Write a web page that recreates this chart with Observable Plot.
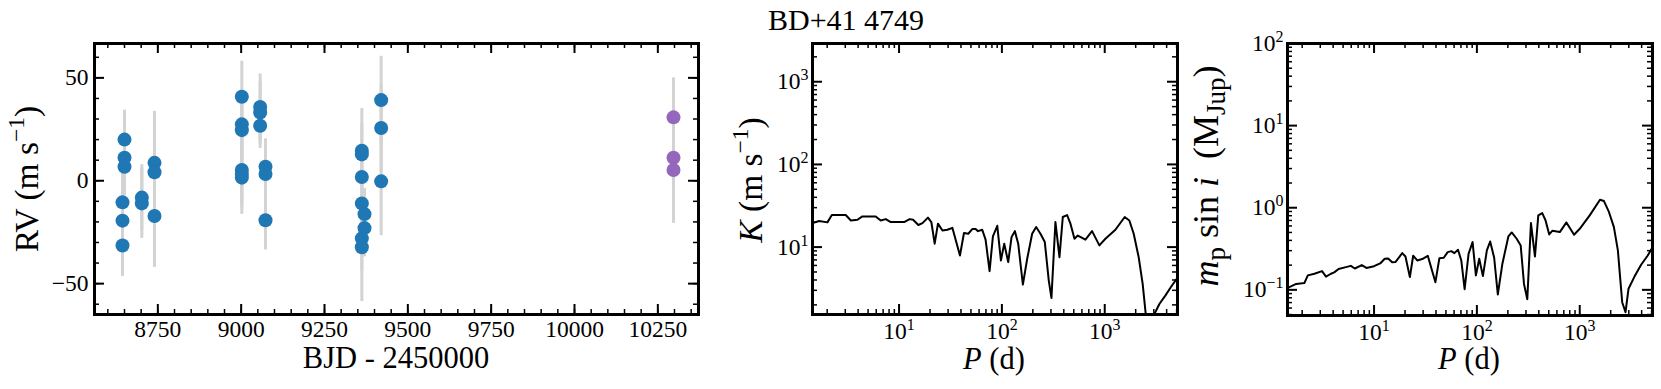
<!DOCTYPE html>
<html><head><meta charset="utf-8">
<script src="https://cdn.jsdelivr.net/npm/d3@7"></script>
<script src="https://cdn.jsdelivr.net/npm/@observablehq/plot@0.6"></script>
<style>
body{margin:0;background:#fff;}
#wrap{position:relative;width:1661px;height:389px;overflow:hidden;background:#fff;}
#wrap svg{position:absolute;top:0;max-width:none;}
#wrap svg text{font-family:'Liberation Serif','Times New Roman',serif;}
</style></head><body><div id="wrap"></div>
<script>
// ---------- RV time series ----------
const bjdBlue = [8650,8650,8650,8644,8644,8644, 8702,8702, 8740,8740,8740,
  9002,9002,9002,9002,9002,9002, 9057,9057,9057, 9073,9073,9073,
  9362,9362,9362,9362,9362,9362, 9370,9370, 9420,9420,9420];
const rvBlue = [20,11.2,6.8,-10.5,-19.4,-31.5, -8.2,-11, 8.7,4.1,-17.1,
  40.8,27.4,24.6,5.2,3.3,1.5, 35.9,33.2,26.7, 6.8,3.3,-19.2,
  14.6,12.8,1.8,-11,-28,-32.3, -16.2,-23, 39.2,25.6,-0.3];
const errBlue = [14.3,14,14,15,15,15, 16,17, 25,25,25,
  17.3,17,17,17,17,17.8, 16,15,11, 13.6,14,14.4,
  20.5,15,15,15,16,26.4, 12.5,14, 21.3,21,26.4];
const bjdPurple = [10297,10297,10297];
const rvPurple = [30.8,11.2,5.2];
const errPurple = [19.2,20,25.9];
const rvXTicks = [8750,9000,9250,9500,9750,10000,10250];
const rvYTicks = [-50,0,50];

// ---------- periodogram: K vs P ----------
const periodK = [1.44,1.67,2.01,2.22,3.03,3.40,3.94,4.40,5.93,6.63,7.43,8.30,11.2,12.7,13.7,15.4,16.9,19.1,20.6,22.2,23.9,26.4,29.5,33.0,39.1,42.8,47.1,51.5,55.5,58.5,64.4,69.4,75.9,81.8,90.2,97.8,105.4,115.2,124.1,133.7,144.1,160.0,176.2,196.9,215.3,237.2,261.3,285.7,303.3,331.6,362.9,391.1,430.7,464.3,507.9,547.0,649,753,887,1015,1270,1564,1735,1913,2138,2338,2540,2775,3000,3400,3881,4505,5152];
const semiAmp = [19.5,20.7,19.9,24.4,24.4,21.0,21.4,23.5,23.5,21.0,21.8,20.1,20.1,21.8,21.4,18.5,19.5,22.7,20.1,11.0,19.2,15.9,16.2,17.1,7.92,14.8,14.5,16.5,16.5,15.6,16.2,12.3,5.12,13.5,18.1,6.89,11.0,6.58,13.2,15.6,11.0,3.52,7.22,14.5,17.5,14.5,11.5,3.94,2.43,20.1,7.56,23.1,24.4,19.2,12.6,13.8,12.3,15.6,10.5,12.6,16.2,23.1,21.0,14.5,7.56,3.60,1.3,0.8,1.5,2.05,2.59,3.43,4.33];

// ---------- periodogram: m sin i vs P ----------
const periodM = [1.50,1.75,2.10,2.27,2.63,3.12,3.41,3.81,4.10,4.52,5.32,5.95,6.50,7.60,8.43,10.0,11.6,12.7,13.7,15.0,16.2,18.8,20.2,22.3,24.0,26.3,29.4,33.3,39.5,43.2,47.6,52.0,56.4,60.4,65.5,70.5,76.0,83.0,90.8,97.8,105.4,114.4,125.0,134.6,147.2,159.7,177.0,202.3,218.1,243.8,266.6,287.1,309.1,335.4,367.0,395.3,431.8,465.2,505.0,543.4,640,742,881,1000,1250,1574,1720,1908,2149,2349,2587,2788,2980,3406,3953,4584,5237];
const minMass = [0.108,0.118,0.121,0.150,0.157,0.169,0.145,0.157,0.163,0.179,0.189,0.196,0.182,0.200,0.185,0.194,0.212,0.239,0.241,0.217,0.219,0.280,0.255,0.143,0.260,0.228,0.237,0.260,0.124,0.243,0.246,0.288,0.296,0.280,0.308,0.228,0.102,0.275,0.381,0.150,0.239,0.147,0.302,0.388,0.246,0.0877,0.208,0.447,0.500,0.419,0.347,0.118,0.0769,0.650,0.255,0.806,0.861,0.701,0.473,0.525,0.505,0.662,0.469,0.554,0.806,1.252,1.206,0.911,0.581,0.302,0.0707,0.0534,0.103,0.145,0.202,0.262,0.347];

const logTicksP = [10,100,1000];
const logTicksK = [10,100,1000];
const logTicksM = [0.1,1,10,100];

const title = "BD+41 4749";
const FONT = "'Liberation Serif', 'Times New Roman', serif";
const TICKFS = 23.5, LABELFS = 30.5, YLABELFS = 33.5;
const H = 389;

function logMinor(domain) {
  const out = [];
  for (let e = -3; e <= 5; e++) for (let m = 2; m <= 9; m++) {
    const v = m * Math.pow(10, e);
    if (v >= domain[0] && v <= domain[1]) out.push(v);
  }
  return out;
}
function linMinor(domain, step) {
  const out = [];
  for (let v = Math.ceil(domain[0] / step) * step; v <= domain[1]; v += step) out.push(v);
  return out;
}
const logFmt = d => "10^" + String(Math.round(Math.log10(d))).replace("-", "\u2212");
const linFmt = d => (d < 0 ? "\u2212" + Math.abs(d) : String(d));

function panel(o) {
  const iw = o.width - o.marginLeft - o.marginRight;
  const ih = H - o.marginTop - o.marginBottom;
  const inX = v => v >= o.x.domain[0] && v <= o.x.domain[1];
  const inY = v => v >= o.y.domain[0] && v <= o.y.domain[1];
  const tX = (vals, len, sw) => [
    Plot.tickX(vals.filter(inX), {x: d => d, insetTop: ih - len, stroke: "#000", strokeWidth: sw}),
    Plot.tickX(vals.filter(inX), {x: d => d, insetBottom: ih - len, stroke: "#000", strokeWidth: sw})
  ];
  const tY = (vals, len, sw) => [
    Plot.tickY(vals.filter(inY), {y: d => d, insetRight: iw - len, stroke: "#000", strokeWidth: sw}),
    Plot.tickY(vals.filter(inY), {y: d => d, insetLeft: iw - len, stroke: "#000", strokeWidth: sw})
  ];
  const svg = Plot.plot({
    width: o.width, height: H,
    marginLeft: o.marginLeft, marginRight: o.marginRight, marginTop: o.marginTop, marginBottom: o.marginBottom,
    style: {fontFamily: FONT, fontSize: TICKFS + "px", background: "transparent", color: "#000"},
    x: o.x, y: o.y,
    marks: [
      ...o.marks,
      ...tX(o.xMinor, 5, 1.5), ...tX(o.xMajor, 10, 2),
      ...tY(o.yMinor, 5, 1.5), ...tY(o.yMajor, 10, 2),
      Plot.frame({stroke: "#000", strokeWidth: 3}),
      Plot.axisX(o.xMajor.filter(inX), {tickSize: 0, tickPadding: o.xPad, tickFormat: o.xFmt, fontSize: TICKFS, label: null}),
      Plot.axisY(o.yMajor.filter(inY), {tickSize: 0, tickPadding: o.yPad, tickFormat: o.yFmt, fontSize: TICKFS, label: null})
    ]
  });
  svg.style.left = o.left + "px";
  d3.select(svg).selectAll("text").attr("font-family", FONT).style("font-family", FONT).style("font-variant-numeric", "normal");
  // superscripts in tick labels
  d3.select(svg).selectAll("text").each(function () {
    const t = this.textContent;
    if (t.includes("^")) {
      const [base, exp] = t.split("^");
      const s = d3.select(this);
      s.text(base);
      s.append("tspan").attr("dy", -9).attr("font-size", TICKFS * 0.68).text(exp);
    }
  });
  document.getElementById("wrap").appendChild(svg);
  return svg;
}

function richText(svg, {x, y, rotate = false, size = LABELFS, subScale = 0.7, anchor = "middle", parts}) {
  const t = d3.select(svg).append("text")
    .attr("font-family", FONT).style("font-family", FONT).attr("font-size", size).attr("text-anchor", anchor)
    .attr("fill", "#000").style("white-space", "pre")
    .attr("transform", `translate(${x},${y})` + (rotate ? " rotate(-90)" : ""));
  let shift = 0;
  for (const p of parts) {
    const s = t.append("tspan").text(p.t);
    const target = p.sup ? -0.42 * size : p.sub ? 0.2 * size : 0;
    if (target !== shift) { s.attr("dy", target - shift); shift = target; }
    if (p.sup || p.sub) s.attr("font-size", size * subScale);
    if (p.it) s.attr("font-style", "italic");
  }
}

// ----- Panel 1: RV -----
const blue = bjdBlue.map((t, i) => ({t, rv: rvBlue[i], err: errBlue[i]}));
const purple = bjdPurple.map((t, i) => ({t, rv: rvPurple[i], err: errPurple[i]}));
const d1x = [8560, 10372], d1y = [-65, 66.7];
const svg1 = panel({
  left: 0, width: 720, marginLeft: 94, marginRight: 22, marginTop: 43, marginBottom: 75,
  x: {domain: d1x}, y: {domain: d1y},
  xMajor: rvXTicks, xMinor: linMinor(d1x, 50), yMajor: rvYTicks, yMinor: linMinor(d1y, 10),
  xFmt: d => String(d), yFmt: linFmt, xPad: 6, yPad: 6,
  marks: [
    Plot.ruleX(blue, {x: "t", y1: d => d.rv - d.err, y2: d => d.rv + d.err, stroke: "#d3d3d3", strokeWidth: 3}),
    Plot.ruleX(purple, {x: "t", y1: d => d.rv - d.err, y2: d => d.rv + d.err, stroke: "#d3d3d3", strokeWidth: 3}),
    Plot.dot(blue, {x: "t", y: "rv", r: 7, fill: "#1f77b4"}),
    Plot.dot(purple, {x: "t", y: "rv", r: 7, fill: "#9467bd"})
  ]
});
richText(svg1, {x: 38, y: 179, rotate: true, size: YLABELFS, parts: [{t: "RV (m s"}, {t: "\u22121", sup: true}, {t: ")"}]});
richText(svg1, {x: 396, y: 368, parts: [{t: "BJD - 2450000"}]});

// ----- Panel 2: K -----
const dPx = [1.44, 5100];
const d2y = [1.53, 2900];
const svg2 = panel({
  left: 720, width: 465, marginLeft: 92, marginRight: 8, marginTop: 43, marginBottom: 75,
  x: {type: "log", domain: dPx}, y: {type: "log", domain: d2y},
  xMajor: logTicksP, xMinor: logMinor(dPx), yMajor: logTicksK, yMinor: logMinor(d2y),
  xFmt: logFmt, yFmt: logFmt, xPad: 8, yPad: 4,
  marks: [
    Plot.line(periodK.map((p, i) => ({p, k: semiAmp[i]})), {x: "p", y: "k", stroke: "#000", strokeWidth: 2, clip: true})
  ]
});
richText(svg2, {x: 42, y: 180, rotate: true, size: YLABELFS, parts: [{t: "K", it: true}, {t: " (m s"}, {t: "\u22121", sup: true}, {t: ")"}]});
richText(svg2, {x: 274, y: 369, parts: [{t: "P", it: true}, {t: " (d)"}]});
richText(svg2, {x: 48, y: 30, anchor: "start", size: 30, parts: [{t: title}]});

// ----- Panel 3: m sin i -----
const d3y = [0.0487, 100];
const svg3 = panel({
  left: 1185, width: 476, marginLeft: 102, marginRight: 9, marginTop: 43, marginBottom: 74,
  x: {type: "log", domain: dPx}, y: {type: "log", domain: d3y},
  xMajor: logTicksP, xMinor: logMinor(dPx), yMajor: logTicksM, yMinor: logMinor(d3y),
  xFmt: logFmt, yFmt: logFmt, xPad: 8, yPad: 4,
  marks: [
    Plot.line(periodM.map((p, i) => ({p, m: minMass[i]})), {x: "p", y: "m", stroke: "#000", strokeWidth: 2, clip: true})
  ]
});
richText(svg3, {x: 33, y: 176, rotate: true, size: 36, subScale: 0.75, parts: [
  {t: "m", it: true}, {t: "p", sub: true}, {t: " sin "}, {t: "i", it: true}, {t: "  (M"}, {t: "Jup", sub: true}, {t: ")"}
]});
richText(svg3, {x: 284, y: 369, parts: [{t: "P", it: true}, {t: " (d)"}]});
</script></body></html>
